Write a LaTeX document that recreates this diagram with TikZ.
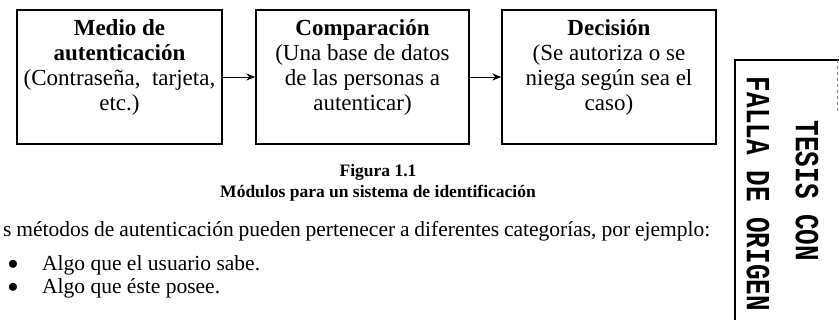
\documentclass[tikz,border=0pt]{standalone}
\usepackage{fontspec}
\setmainfont{Liberation Serif}
\newfontfamily\stampfont{Liberation Mono}
\usetikzlibrary{arrows.meta}

\begin{document}
\begin{tikzpicture}[x=1pt,y=-1pt,
    modulo/.style={draw,line width=1.4pt,minimum width=#1,minimum height=134pt,inner sep=0pt},
    modtext/.style={anchor=north,align=center,inner sep=0pt,yshift=-10pt,
      font=\fontsize{23}{25}\selectfont},
    flecha/.style={-{Stealth[length=9pt,width=7pt]},line width=0.9pt},
    sello/.style={line width=1.8pt},
    cuerpo/.style={inner sep=0pt,font=\fontsize{21.5}{24}\selectfont},
    selltext/.style={rotate=-90,inner sep=0pt,font=\stampfont\bfseries\fontsize{26}{26}\selectfont}]
    \useasboundingbox (0,0) rectangle (839,320);

    % modulos
    \node [modulo=205pt] (medio) at (119.5,77) {};
    \node [modulo=213pt] (comp) at (362.5,77) {};
    \node [modulo=214pt] (decis) at (609,77) {};
    \node [modtext] (mediotxt) at (medio.north) {\textbf{Medio de}\\ \textbf{autenticación}\\
                               (Contraseña,\ \ tarjeta,\\ etc.)};
    \node [modtext] (comptxt) at (comp.north) {\textbf{Comparación}\\ (Una base de datos\\
                               de las personas a\\ autenticar)};
    \node [modtext] (decistxt) at (decis.north) {\textbf{Decisión}\\ (Se autoriza o se\\
                               niega según sea el\\ caso)};
    \draw [flecha] (medio.east) -- (comp.west);
    \draw [flecha] (comp.east) -- (decis.west);

    % pie de figura
    \node [font=\bfseries\fontsize{17.5}{20}\selectfont] (fig) at (378,172) {Figura 1.1};
    \node [font=\bfseries\fontsize{17.5}{20}\selectfont] (figtit) at (378,193)
          {Módulos para un sistema de identificación};

    % texto
    \node [cuerpo,anchor=west] (parr) at (3,231)
          {\makebox[707pt][s]{s métodos de autenticación pueden pertenecer a diferentes categorías, por ejemplo:}};
    \node [cuerpo] (b1) at (13,265) {$\bullet$};
    \node [cuerpo,anchor=west] (item1) at (42,265) {Algo que el usuario sabe.};
    \node [cuerpo] (b2) at (13,288) {$\bullet$};
    \node [cuerpo,anchor=west] (item2) at (42,288) {Algo que éste posee.};

    % sello
    \draw [sello] (839,60) -- (735,60) -- (735,320);
    \draw [gray,dashed,line width=0.6pt] (837,60) -- (837,112);
    \node [selltext] (falla) at (758,194) {\scalebox{1}[1.3]{FALLA DE ORIGEN}};
    \node [selltext] (tesis) at (807,191) {\scalebox{1}[1.3]{TESIS CON}};
\end{tikzpicture}
\end{document}
